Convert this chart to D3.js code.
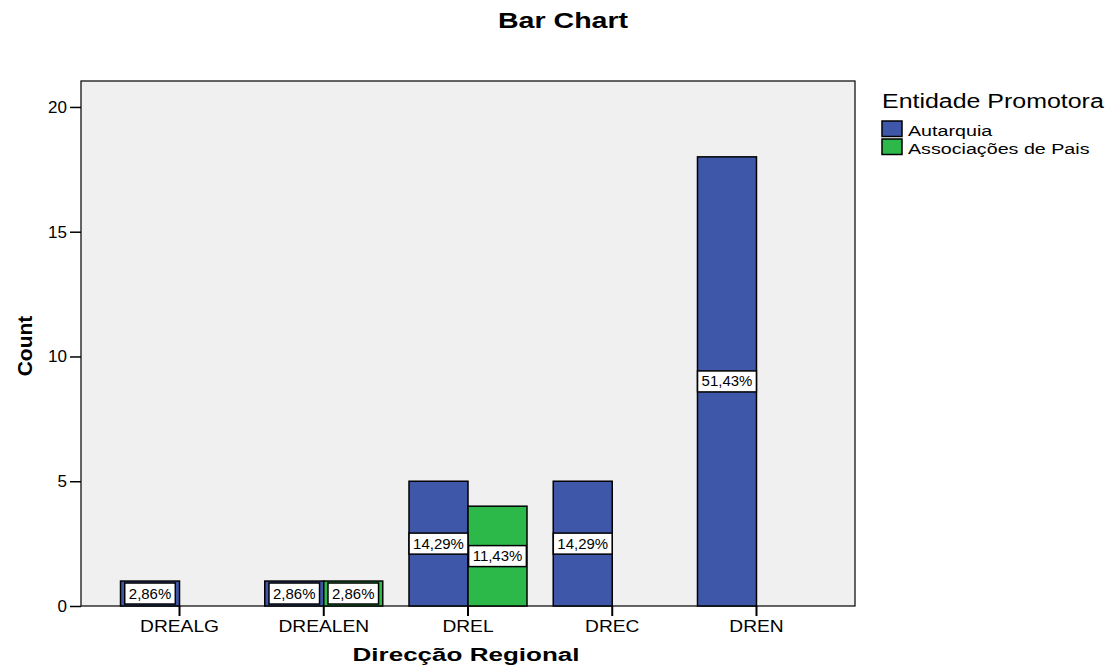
<!DOCTYPE html>
<html lang="en">
<head>
<meta charset="utf-8">
<title>Bar Chart</title>
<script src="https://d3js.org/d3.v7.min.js"></script>
<style>
  body { margin: 0; background: #fff; font-family: "Liberation Sans", Arial, sans-serif; }
</style>
</head>
<body>
<script>
// data
var regions = ["DREALG", "DREALEN", "DREL", "DREC", "DREN"];
var groups = ["Autarquia", "Associações de Pais"];
var autarquia = [1, 1, 5, 5, 18];
var associacoes = [0, 1, 4, 0, 0];
var pctAut = ["2,86%", "2,86%", "14,29%", "14,29%", "51,43%"];
var pctAss = ["", "2,86%", "11,43%", "", ""];
var yTicks = [0, 5, 10, 15, 20];
var colors = ["#3e57a9", "#2db84a"];

var W = 1107, H = 665;
var plot = {left: 81, top: 81, right: 855, bottom: 606};

var rows = [];
regions.forEach(function(r, i) {
  if (autarquia[i] > 0) rows.push({region: r, group: groups[0], value: autarquia[i], pct: pctAut[i]});
  if (associacoes[i] > 0) rows.push({region: r, group: groups[1], value: associacoes[i], pct: pctAss[i]});
});

// text in the reference is drawn a bit wide, stretch it horizontally
function stretchText(sel, x, y, sx) {
  sel.attr("transform", "translate(" + x + "," + y + ") scale(" + sx + ",1)");
  return sel;
}

var svg = d3.select("body").append("svg")
  .attr("width", W).attr("height", H);

var x = d3.scaleBand().domain(regions)
  .range([plot.left, plot.right])
  .paddingInner(0).paddingOuter(0.183);

var barW = 59;
var xSub = d3.scaleBand().domain(groups).range([-barW, barW]);

var y = d3.scaleLinear().domain([0, 21.04]).range([plot.bottom, plot.top]);

// plot background
svg.append("rect")
  .attr("x", plot.left).attr("y", plot.top)
  .attr("width", plot.right - plot.left).attr("height", plot.bottom - plot.top)
  .attr("fill", "#f0f0f0").attr("stroke", "#000").attr("stroke-width", 1.2);

// bars
svg.selectAll(".bar").data(rows).enter().append("rect")
  .attr("class", "bar")
  .attr("x", function(d) { return x(d.region) + x.bandwidth() / 2 + xSub(d.group); })
  .attr("width", xSub.bandwidth())
  .attr("y", function(d) { return y(d.value); })
  .attr("height", function(d) { return y(0) - y(d.value); })
  .attr("fill", function(d) { return colors[groups.indexOf(d.group)]; })
  .attr("stroke", "#000").attr("stroke-width", 1.5);

// percent labels
var lab = svg.selectAll(".lab").data(rows).enter().append("g")
  .attr("class", "lab")
  .attr("transform", function(d) {
    var cx = x(d.region) + x.bandwidth() / 2 + xSub(d.group) + xSub.bandwidth() / 2;
    return "translate(" + cx + "," + y(d.value / 2) + ")";
  });
lab.append("text")
  .attr("text-anchor", "middle").attr("dy", "0.36em")
  .attr("font-size", "14px").attr("fill", "#000")
  .attr("transform", "scale(1.07,1)")
  .text(function(d) { return d.pct; });
lab.each(function() {
  var g = d3.select(this), bb = g.select("text").node().getBBox();
  var w = bb.width * 1.07 + 8;
  g.insert("rect", "text")
    .attr("x", -w / 2).attr("y", -10.5)
    .attr("width", w).attr("height", 21)
    .attr("fill", "#fff").attr("stroke", "#000").attr("stroke-width", 1.5);
});

// y axis
var yAxis = svg.append("g")
  .attr("transform", "translate(" + plot.left + ",0)")
  .call(d3.axisLeft(y).tickValues(yTicks).tickSize(11).tickPadding(3));
yAxis.select(".domain").remove();
yAxis.selectAll("line").attr("stroke", "#000").attr("stroke-width", 1.5);
yAxis.selectAll("text").attr("font-size", "17px").attr("font-family", "Liberation Sans, Arial, sans-serif");

// x axis
var xAxis = svg.append("g")
  .attr("transform", "translate(0," + plot.bottom + ")")
  .call(d3.axisBottom(x).tickSize(10).tickPadding(5));
xAxis.select(".domain").remove();
xAxis.selectAll("line").attr("stroke", "#000").attr("stroke-width", 2);
xAxis.selectAll("text")
  .attr("font-size", "16px").attr("font-family", "Liberation Sans, Arial, sans-serif")
  .attr("transform", "scale(1.2,1)");

// titles
stretchText(svg.append("text"), 563, 28, 1.3)
  .attr("text-anchor", "middle")
  .attr("font-size", "22px").attr("font-weight", "bold")
  .text("Bar Chart");

stretchText(svg.append("text"), 466, 661, 1.37)
  .attr("text-anchor", "middle")
  .attr("font-size", "19px").attr("font-weight", "bold")
  .text("Direcção Regional");

svg.append("text")
  .attr("transform", "translate(32,346) rotate(-90)")
  .attr("text-anchor", "middle")
  .attr("font-size", "21px").attr("font-weight", "bold")
  .attr("font-family", "Liberation Sans Narrow, Arial Narrow, sans-serif")
  .text("Count");

// legend
var legend = svg.append("g").attr("transform", "translate(882,0)");
stretchText(legend.append("text"), 0, 108, 1.28)
  .attr("font-size", "19.5px")
  .text("Entidade Promotora");
var li = legend.selectAll(".li").data(groups).enter().append("g")
  .attr("class", "li")
  .attr("transform", function(d, i) { return "translate(0," + (121 + i * 18) + ")"; });
li.append("rect")
  .attr("x", 0).attr("y", 0).attr("width", 20).attr("height", 15.5)
  .attr("fill", function(d, i) { return colors[i]; })
  .attr("stroke", "#000").attr("stroke-width", 1.5);
li.each(function(d) {
  stretchText(d3.select(this).append("text"), 26, 14.5, 1.27)
    .attr("font-size", "15.5px")
    .text(d);
});
</script>
</body>
</html>
